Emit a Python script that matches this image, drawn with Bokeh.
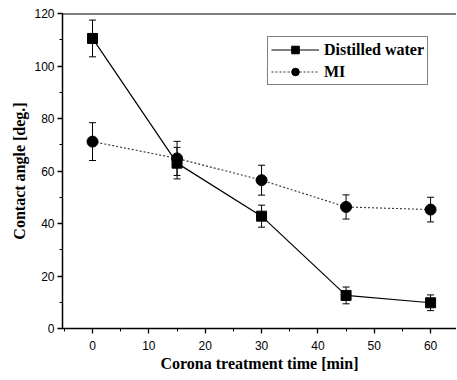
from bokeh.plotting import figure
from bokeh.models import (ColumnDataSource, Whisker, TeeHead, SingleIntervalTicker,
                          Legend, LegendItem, Span, Range1d)
from bokeh.embed import file_html
from bokeh.resources import INLINE

time_min = [0, 15, 30, 45, 60]
water = [110.5, 63.0, 42.8, 12.6, 9.8]
water_err = [7.0, 6.0, 4.2, 3.2, 3.0]
mi = [71.2, 64.8, 56.5, 46.3, 45.3]
mi_err = [7.2, 6.5, 5.7, 4.6, 4.7]

x_label = "Corona treatment time [min]"
y_label = "Contact angle [deg.]"
names = ["Distilled water", "MI"]

src_w = ColumnDataSource(dict(x=time_min, y=water,
                              lo=[v - e for v, e in zip(water, water_err)],
                              hi=[v + e for v, e in zip(water, water_err)]))
src_m = ColumnDataSource(dict(x=time_min, y=mi,
                              lo=[v - e for v, e in zip(mi, mi_err)],
                              hi=[v + e for v, e in zip(mi, mi_err)]))

p = figure(width=456, height=379, output_backend="svg", toolbar_location=None,
           x_range=Range1d(-5.33, 64.6), y_range=Range1d(0, 120),
           min_border_left=62, min_border_right=0, min_border_top=13,
           min_border_bottom=51)
p.outline_line_color = None
p.grid.visible = False
p.background_fill_color = "white"
p.border_fill_color = "white"

top = Span(location=120, dimension="width", line_color="black", line_width=2)
p.add_layout(top)

p.xaxis.ticker = SingleIntervalTicker(interval=10, num_minor_ticks=2)
p.yaxis.ticker = SingleIntervalTicker(interval=20, num_minor_ticks=2)
for ax in (p.xaxis, p.yaxis):
    ax.axis_line_width = 1.5
    ax.axis_line_color = "black"
    ax.major_tick_in = 0
    ax.major_tick_out = 5
    ax.minor_tick_in = 0
    ax.minor_tick_out = 3
    ax.major_tick_line_color = "black"
    ax.minor_tick_line_color = "black"
    ax.major_tick_line_width = 1.3
    ax.major_label_text_font = "Liberation Sans"
    ax.major_label_text_font_size = "12px"
    ax.major_label_text_color = "black"
    ax.axis_label_text_font = "Liberation Serif"
    ax.axis_label_text_font_style = "bold"
    ax.axis_label_text_font_size = "16px"
    ax.axis_label_text_color = "black"
p.xaxis.axis_label = x_label
p.yaxis.axis_label = y_label
p.xaxis.major_label_standoff = 7
p.xaxis.axis_label_standoff = 2
p.yaxis.major_label_standoff = 3
p.yaxis.axis_label_standoff = 3

lw = p.line("x", "y", source=src_w, line_color="black", line_width=1.2)
lm = p.line("x", "y", source=src_m, line_color="#333333", line_width=1.1,
            line_dash="2 2")

for src in (src_w, src_m):
    wk = Whisker(source=src, base="x", lower="lo", upper="hi",
                 line_color="black", line_width=1,
                 upper_head=TeeHead(size=7, line_color="black", line_width=1),
                 lower_head=TeeHead(size=7, line_color="black", line_width=1))
    p.add_layout(wk)

sw = p.scatter("x", "y", source=src_w, marker="square", size=10,
               fill_color="black", line_color="black")
sm = p.scatter("x", "y", source=src_m, marker="circle", size=11,
               fill_color="black", line_color="black")

legend = Legend(items=[LegendItem(label=names[0], renderers=[lw, sw]),
                       LegendItem(label=names[1], renderers=[lm, sm])],
                location=(205, 243), padding=3, spacing=3,
                glyph_height=19, glyph_width=48, label_height=19,
                label_standoff=5,
                label_text_font="Liberation Serif", label_text_font_style="bold",
                label_text_font_size="16px", label_text_color="black",
                border_line_color="black", border_line_width=1.5,
                background_fill_color="white", background_fill_alpha=1)
p.add_layout(legend)

open("out.html", "w").write(file_html(p, INLINE))
